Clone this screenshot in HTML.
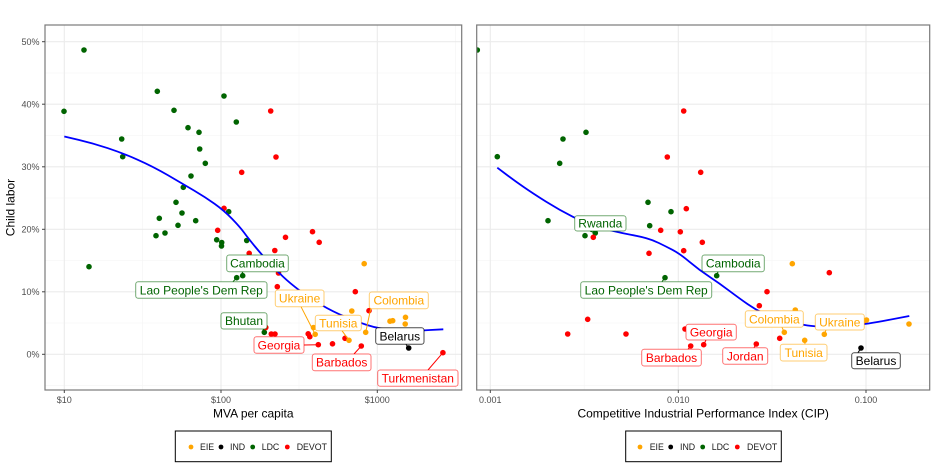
<!DOCTYPE html>
<html><head><meta charset="utf-8"><style>
html,body{margin:0;padding:0;background:#fff;}
svg{display:block;font-family:"Liberation Sans",Arial,sans-serif;}
</style></head><body>
<svg width="936" height="468" viewBox="0 0 936 468" xmlns="http://www.w3.org/2000/svg">
<defs>
<clipPath id="cl"><rect x="45" y="25" width="416.7" height="365"/></clipPath>
<clipPath id="cr"><rect x="476.7" y="25" width="453" height="365"/></clipPath>
</defs>
<rect width="936" height="468" fill="#fff"/>

<!-- LEFT PANEL grid -->
<g clip-path="url(#cl)">
<g stroke="#f4f4f4" stroke-width="0.6">
<line x1="45" x2="462" y1="73" y2="73"/><line x1="45" x2="462" y1="135.5" y2="135.5"/><line x1="45" x2="462" y1="198" y2="198"/><line x1="45" x2="462" y1="260.5" y2="260.5"/><line x1="45" x2="462" y1="323" y2="323"/><line x1="45" x2="462" y1="385.6" y2="385.6"/>
<line y1="25" y2="390" x1="142.5" x2="142.5"/><line y1="25" y2="390" x1="299" x2="299"/><line y1="25" y2="390" x1="455.5" x2="455.5"/>
</g>
<g stroke="#ebebeb" stroke-width="1.1">
<line x1="45" x2="462" y1="41.7" y2="41.7"/><line x1="45" x2="462" y1="104.2" y2="104.2"/><line x1="45" x2="462" y1="166.8" y2="166.8"/><line x1="45" x2="462" y1="229.3" y2="229.3"/><line x1="45" x2="462" y1="291.8" y2="291.8"/><line x1="45" x2="462" y1="354.3" y2="354.3"/>
<line y1="25" y2="390" x1="64.3" x2="64.3"/><line y1="25" y2="390" x1="221" x2="221"/><line y1="25" y2="390" x1="377.3" x2="377.3"/>
</g>
<!-- points -->
<g fill="#006400">
<circle cx="84" cy="50" r="2.8"/><circle cx="64" cy="111.3" r="2.8"/><circle cx="157.3" cy="91.3" r="2.8"/><circle cx="224" cy="96" r="2.8"/><circle cx="174" cy="110.3" r="2.8"/><circle cx="236.3" cy="122" r="2.8"/><circle cx="121.7" cy="139" r="2.8"/><circle cx="122.7" cy="156.7" r="2.8"/><circle cx="188" cy="127.7" r="2.8"/><circle cx="199" cy="132.3" r="2.8"/><circle cx="199.7" cy="149" r="2.8"/><circle cx="205.3" cy="163.3" r="2.8"/><circle cx="191" cy="176" r="2.8"/><circle cx="183.3" cy="187.3" r="2.8"/><circle cx="176" cy="202.3" r="2.8"/><circle cx="182" cy="213" r="2.8"/><circle cx="159.3" cy="218.3" r="2.8"/><circle cx="178" cy="225.3" r="2.8"/><circle cx="195.7" cy="220.7" r="2.8"/><circle cx="228.7" cy="211.7" r="2.8"/><circle cx="156" cy="235.7" r="2.8"/><circle cx="165" cy="233" r="2.8"/><circle cx="216.7" cy="239.8" r="2.8"/><circle cx="221.7" cy="242.5" r="2.8"/><circle cx="221.5" cy="246" r="2.8"/><circle cx="246.7" cy="240.5" r="2.8"/><circle cx="89" cy="266.7" r="2.8"/><circle cx="236.7" cy="277.7" r="2.8"/><circle cx="242.7" cy="275.7" r="2.8"/><circle cx="264.3" cy="332.3" r="2.8"/>
</g>
<g fill="#ff0000">
<circle cx="270.7" cy="111" r="2.8"/><circle cx="276" cy="157" r="2.8"/><circle cx="241.7" cy="172.3" r="2.8"/><circle cx="224" cy="208.3" r="2.8"/><circle cx="217.7" cy="230.3" r="2.8"/><circle cx="285.5" cy="237.3" r="2.8"/><circle cx="312.5" cy="231.7" r="2.8"/><circle cx="319.2" cy="242.3" r="2.8"/><circle cx="249.2" cy="253.3" r="2.8"/><circle cx="274.8" cy="250.5" r="2.8"/><circle cx="278.5" cy="273" r="2.8"/><circle cx="277.3" cy="286.7" r="2.8"/><circle cx="355.3" cy="291.7" r="2.8"/><circle cx="369" cy="310.7" r="2.8"/><circle cx="308.2" cy="333.8" r="2.8"/><circle cx="309.8" cy="336.7" r="2.8"/><circle cx="345" cy="338.3" r="2.8"/><circle cx="318.3" cy="344.7" r="2.8"/><circle cx="332.5" cy="343.8" r="2.8"/><circle cx="361.3" cy="346" r="2.8"/><circle cx="442.9" cy="352.7" r="2.8"/><circle cx="265.8" cy="327.5" r="2.8"/><circle cx="271.3" cy="334" r="2.8"/><circle cx="275" cy="334" r="2.8"/>
</g>
<g fill="#ffa500">
<circle cx="364.2" cy="263.7" r="2.8"/><circle cx="351.8" cy="311" r="2.8"/><circle cx="390" cy="321.2" r="2.8"/><circle cx="392.7" cy="320.7" r="2.8"/><circle cx="405.5" cy="317.3" r="2.8"/><circle cx="405.2" cy="324" r="2.8"/><circle cx="365.7" cy="332.3" r="2.8"/><circle cx="315.2" cy="334.3" r="2.8"/><circle cx="349" cy="340.3" r="2.8"/><circle cx="313.5" cy="327.5" r="2.8"/>
</g>
<circle cx="408.7" cy="348" r="2.8" fill="#000"/>
<!-- smooth -->
<path fill="none" stroke="#0000ff" stroke-width="1.8" stroke-linejoin="round" d="M64.3,136.5 L78.65,139.9 Q93,143.3 107.5,148.05 Q122,152.8 137.5,159.65 Q153,166.5 168,175.25 Q183,184 194,190.5 Q205,197 214.5,203.75 Q224,210.5 232,218.75 Q240,227 244,232.5 Q248,238 255,246.5 Q262,255 269,262.5 Q276,270 283,276.65 Q290,283.3 300,290.8 Q310,298.3 321.5,305 Q333,311.7 345,316.7 Q357,321.7 367,325 Q377,328.3 388.5,329.65 Q400,331 408.5,330.85 Q417,330.7 430.15,330 L443.3,329.3"/>
<!-- leaders -->
<g stroke-width="1">
<line x1="243" y1="271.7" x2="240" y2="276.5" stroke="#006400"/>
<line x1="233" y1="281.7" x2="236.7" y2="277.7" stroke="#006400"/>
<line x1="263" y1="329" x2="264.3" y2="332" stroke="#006400"/>
<line x1="301" y1="306.7" x2="315" y2="334" stroke="#ffa500"/>
<line x1="342" y1="330.7" x2="349" y2="340.3" stroke="#ffa500"/>
<line x1="370.7" y1="308.7" x2="365.7" y2="332.3" stroke="#ffa500"/>
<line x1="304" y1="345" x2="318.3" y2="344.7" stroke="#ff0000"/>
<line x1="354" y1="354" x2="361.3" y2="346" stroke="#ff0000"/>
<line x1="406" y1="344.3" x2="408.7" y2="348" stroke="#000"/>
<line x1="428" y1="370" x2="442.9" y2="352.7" stroke="#ff0000"/>
</g>
<!-- labels -->
<g font-size="12" text-anchor="middle">
<rect x="226.7" y="255" width="61.6" height="16.7" rx="2.5" fill="#fff" stroke="#006400" stroke-opacity="0.55"/><text x="257.5" y="267.7" fill="#006400">Cambodia</text>
<rect x="135.7" y="281.7" width="131.3" height="16.6" rx="2.5" fill="#fff" stroke="#006400" stroke-opacity="0.55"/><text x="201.3" y="294.3" fill="#006400">Lao People's Dem Rep</text>
<rect x="221" y="312.7" width="46" height="16.3" rx="2.5" fill="#fff" stroke="#006400" stroke-opacity="0.55"/><text x="244" y="325.2" fill="#006400">Bhutan</text>
<rect x="275.3" y="290" width="48.7" height="16.7" rx="2.5" fill="#fff" stroke="#ffa500" stroke-opacity="0.55"/><text x="299.6" y="302.6" fill="#ffa500">Ukraine</text>
<rect x="315.3" y="315.3" width="46" height="15.4" rx="2.5" fill="#fff" stroke="#ffa500" stroke-opacity="0.55"/><text x="338.3" y="327.3" fill="#ffa500">Tunisia</text>
<rect x="369.3" y="292" width="59" height="16.7" rx="2.5" fill="#fff" stroke="#ffa500" stroke-opacity="0.55"/><text x="398.8" y="304.6" fill="#ffa500">Colombia</text>
<rect x="254" y="336.7" width="50" height="16.6" rx="2.5" fill="#fff" stroke="#ff0000" stroke-opacity="0.55"/><text x="279" y="349.3" fill="#ff0000">Georgia</text>
<rect x="312.3" y="354" width="58.7" height="16.7" rx="2.5" fill="#fff" stroke="#ff0000" stroke-opacity="0.55"/><text x="341.7" y="366.6" fill="#ff0000">Barbados</text>
<rect x="375.7" y="327.7" width="48.3" height="16.6" rx="2.5" fill="#fff" stroke="#000" stroke-opacity="0.7"/><text x="399.8" y="340.3" fill="#000">Belarus</text>
<rect x="377.7" y="370" width="80.3" height="16.3" rx="2.5" fill="#fff" stroke="#ff0000" stroke-opacity="0.55"/><text x="417.8" y="382.4" fill="#ff0000">Turkmenistan</text>
</g>
</g>
<rect x="45" y="25" width="416.7" height="365" fill="none" stroke="#7a7a7a" stroke-width="1.2"/>
<!-- left axes -->
<g stroke="#444" stroke-width="1">
<line x1="42" x2="45" y1="41.7" y2="41.7"/><line x1="42" x2="45" y1="104.2" y2="104.2"/><line x1="42" x2="45" y1="166.8" y2="166.8"/><line x1="42" x2="45" y1="229.3" y2="229.3"/><line x1="42" x2="45" y1="291.8" y2="291.8"/><line x1="42" x2="45" y1="354.3" y2="354.3"/>
<line x1="64.3" x2="64.3" y1="390" y2="393"/><line x1="221" x2="221" y1="390" y2="393"/><line x1="377.3" x2="377.3" y1="390" y2="393"/>
</g>
<g font-size="9" fill="#4d4d4d" text-anchor="end">
<text x="39.5" y="44.8">50%</text><text x="39.5" y="107.3">40%</text><text x="39.5" y="169.9">30%</text><text x="39.5" y="232.4">20%</text><text x="39.5" y="294.9">10%</text><text x="39.5" y="357.4">0%</text>
</g>
<g font-size="9" fill="#4d4d4d" text-anchor="middle">
<text x="64.3" y="403">$10</text><text x="221" y="403">$100</text><text x="377.3" y="403">$1000</text>
</g>
<text x="253.3" y="417.5" font-size="12" text-anchor="middle" fill="#000">MVA per capita</text>
<text transform="translate(14.5,207.5) rotate(-90)" font-size="12" text-anchor="middle" fill="#000">Child labor</text>

<!-- RIGHT PANEL grid -->
<g clip-path="url(#cr)">
<g stroke="#f4f4f4" stroke-width="0.6">
<line x1="476" x2="930" y1="73" y2="73"/><line x1="476" x2="930" y1="135.5" y2="135.5"/><line x1="476" x2="930" y1="198" y2="198"/><line x1="476" x2="930" y1="260.5" y2="260.5"/><line x1="476" x2="930" y1="323" y2="323"/><line x1="476" x2="930" y1="385.6" y2="385.6"/>
<line y1="25" y2="390" x1="584.2" x2="584.2"/><line y1="25" y2="390" x1="772" x2="772"/>
</g>
<g stroke="#ebebeb" stroke-width="1.1">
<line x1="476" x2="930" y1="41.7" y2="41.7"/><line x1="476" x2="930" y1="104.2" y2="104.2"/><line x1="476" x2="930" y1="166.8" y2="166.8"/><line x1="476" x2="930" y1="229.3" y2="229.3"/><line x1="476" x2="930" y1="291.8" y2="291.8"/><line x1="476" x2="930" y1="354.3" y2="354.3"/>
<line y1="25" y2="390" x1="490.3" x2="490.3"/><line y1="25" y2="390" x1="678.3" x2="678.3"/><line y1="25" y2="390" x1="866" x2="866"/>
</g>
<g fill="#006400">
<circle cx="477.3" cy="50" r="2.8"/><circle cx="586" cy="132.3" r="2.8"/><circle cx="563" cy="139" r="2.8"/><circle cx="497.3" cy="156.7" r="2.8"/><circle cx="559.7" cy="163.3" r="2.8"/><circle cx="648" cy="202.3" r="2.8"/><circle cx="671" cy="211.7" r="2.8"/><circle cx="548" cy="220.7" r="2.8"/><circle cx="649.7" cy="225.7" r="2.8"/><circle cx="585" cy="235.7" r="2.8"/><circle cx="595.3" cy="233" r="2.8"/><circle cx="665" cy="277.7" r="2.8"/><circle cx="716.7" cy="275.7" r="2.8"/>
</g>
<g fill="#ff0000">
<circle cx="683.7" cy="111" r="2.8"/><circle cx="667.3" cy="157" r="2.8"/><circle cx="700.7" cy="172.3" r="2.8"/><circle cx="686.3" cy="208.7" r="2.8"/><circle cx="660.7" cy="230.3" r="2.8"/><circle cx="680.3" cy="231.8" r="2.8"/><circle cx="593.3" cy="237.3" r="2.8"/><circle cx="702.3" cy="242.3" r="2.8"/><circle cx="649" cy="253.3" r="2.8"/><circle cx="683.7" cy="250.7" r="2.8"/><circle cx="829.3" cy="272.7" r="2.8"/><circle cx="767" cy="291.7" r="2.8"/><circle cx="759.3" cy="305.7" r="2.8"/><circle cx="587.7" cy="319.3" r="2.8"/><circle cx="567.7" cy="334" r="2.8"/><circle cx="626" cy="334" r="2.8"/><circle cx="779.7" cy="338.3" r="2.8"/><circle cx="690.7" cy="346" r="2.8"/><circle cx="703.7" cy="344.7" r="2.8"/><circle cx="756.3" cy="344" r="2.8"/><circle cx="685" cy="329" r="2.8"/>
</g>
<g fill="#ffa500">
<circle cx="792.3" cy="263.7" r="2.8"/><circle cx="795.3" cy="310" r="2.8"/><circle cx="864.7" cy="320.7" r="2.8"/><circle cx="909" cy="324" r="2.8"/><circle cx="784.3" cy="332.3" r="2.8"/><circle cx="804.7" cy="340.3" r="2.8"/><circle cx="824.3" cy="334.3" r="2.8"/><circle cx="866.5" cy="320" r="2.8"/>
</g>
<circle cx="861" cy="348" r="2.8" fill="#000"/>
<path fill="none" stroke="#0000ff" stroke-width="1.8" stroke-linejoin="round" d="M497.3,167.7 L506.15,174.35 Q515,181 523.85,187.15 Q532.7,193.3 546,201.65 Q559.3,210 572.65,216.65 Q586,223.3 595.5,226.15 Q605,229 613.85,231.15 Q622.7,233.3 631.35,234.9 Q640,236.5 646.35,238.25 Q652.7,240 658.85,243 Q665,246 672.15,249.65 Q679.3,253.3 689.3,261.65 Q699.3,270 709.3,276.65 Q719.3,283.3 729.3,290.8 Q739.3,298.3 747.65,304.15 Q756,310 766,314.65 Q776,319.3 787.65,321.8 Q799.3,324.3 807.65,325.5 Q816,326.7 829.35,326.35 Q842.7,326 854.35,325.15 Q866,324.3 887.65,320.15 L909.3,316"/>
<g stroke-width="1">
<line x1="590" y1="231" x2="595.3" y2="233" stroke="#006400"/>
<line x1="718" y1="271.7" x2="716.7" y2="275.7" stroke="#006400"/>
<line x1="662" y1="281.7" x2="665" y2="277.7" stroke="#006400"/>
<line x1="706" y1="340" x2="703.7" y2="344.7" stroke="#ff0000"/>
<line x1="688" y1="349.3" x2="690.7" y2="346" stroke="#ff0000"/>
<line x1="754" y1="347.7" x2="756.3" y2="344" stroke="#ff0000"/>
<line x1="782" y1="327.3" x2="784.3" y2="332.3" stroke="#ffa500"/>
<line x1="826" y1="330" x2="824.3" y2="334.3" stroke="#ffa500"/>
<line x1="805" y1="344.3" x2="804.7" y2="340.3" stroke="#ffa500"/>
<line x1="858" y1="352.7" x2="861" y2="348" stroke="#000"/>
</g>
<g font-size="12" text-anchor="middle">
<rect x="574.7" y="215.7" width="51.3" height="15.3" rx="2.5" fill="#fff" stroke="#006400" stroke-opacity="0.55"/><text x="600.3" y="227.6" fill="#006400">Rwanda</text>
<rect x="702" y="255" width="62.3" height="16.7" rx="2.5" fill="#fff" stroke="#006400" stroke-opacity="0.55"/><text x="733.2" y="267.7" fill="#006400">Cambodia</text>
<rect x="580.7" y="281.7" width="131" height="16.6" rx="2.5" fill="#fff" stroke="#006400" stroke-opacity="0.55"/><text x="646.2" y="294.3" fill="#006400">Lao People's Dem Rep</text>
<rect x="686" y="324.3" width="50.3" height="15.7" rx="2.5" fill="#fff" stroke="#ff0000" stroke-opacity="0.55"/><text x="711.2" y="336.5" fill="#ff0000">Georgia</text>
<rect x="641.7" y="349.3" width="59.6" height="16.7" rx="2.5" fill="#fff" stroke="#ff0000" stroke-opacity="0.55"/><text x="671.5" y="361.9" fill="#ff0000">Barbados</text>
<rect x="722.7" y="347.7" width="45" height="16.6" rx="2.5" fill="#fff" stroke="#ff0000" stroke-opacity="0.55"/><text x="745.2" y="360.3" fill="#ff0000">Jordan</text>
<rect x="745.3" y="310.7" width="58" height="16.6" rx="2.5" fill="#fff" stroke="#ffa500" stroke-opacity="0.55"/><text x="774.3" y="323.3" fill="#ffa500">Colombia</text>
<rect x="815.3" y="314" width="49" height="16" rx="2.5" fill="#fff" stroke="#ffa500" stroke-opacity="0.55"/><text x="839.8" y="326.3" fill="#ffa500">Ukraine</text>
<rect x="780.3" y="344.3" width="46.7" height="16.7" rx="2.5" fill="#fff" stroke="#ffa500" stroke-opacity="0.55"/><text x="803.7" y="356.9" fill="#ffa500">Tunisia</text>
<rect x="851.7" y="352.7" width="48.6" height="16" rx="2.5" fill="#fff" stroke="#000" stroke-opacity="0.7"/><text x="876" y="365" fill="#000">Belarus</text>
</g>
</g>
<rect x="476.7" y="25" width="453" height="365" fill="none" stroke="#7a7a7a" stroke-width="1.2"/>
<g stroke="#444" stroke-width="1">
<line x1="490.3" x2="490.3" y1="390" y2="393"/><line x1="678.3" x2="678.3" y1="390" y2="393"/><line x1="866" x2="866" y1="390" y2="393"/>
</g>
<g font-size="9" fill="#4d4d4d" text-anchor="middle">
<text x="490.3" y="403">0.001</text><text x="678.3" y="403">0.010</text><text x="866" y="403">0.100</text>
</g>
<text x="703.2" y="417.5" font-size="12" text-anchor="middle" fill="#000">Competitive Industrial Performance Index (CIP)</text>

<!-- legends -->
<rect x="175.3" y="431" width="156" height="30.7" fill="#fff" stroke="#000" stroke-width="1"/>
<circle cx="191" cy="447" r="2.4" fill="#ffa500"/><circle cx="221" cy="447" r="2.4" fill="#000"/><circle cx="252.7" cy="447" r="2.4" fill="#006400"/><circle cx="287.3" cy="447" r="2.4" fill="#ff0000"/>
<g font-size="8.8" fill="#1a1a1a">
<text x="200" y="450.2">EIE</text><text x="230" y="450.2">IND</text><text x="261.7" y="450.2">LDC</text><text x="296.7" y="450.2">DEVOT</text>
</g>
<rect x="625.7" y="431" width="155.6" height="30.7" fill="#fff" stroke="#000" stroke-width="1"/>
<circle cx="640" cy="447" r="2.4" fill="#ffa500"/><circle cx="670.7" cy="447" r="2.4" fill="#000"/><circle cx="702.7" cy="447" r="2.4" fill="#006400"/><circle cx="737.3" cy="447" r="2.4" fill="#ff0000"/>
<g font-size="8.8" fill="#1a1a1a">
<text x="649.7" y="450.2">EIE</text><text x="680" y="450.2">IND</text><text x="711.7" y="450.2">LDC</text><text x="747" y="450.2">DEVOT</text>
</g>
</svg>
</body></html>
